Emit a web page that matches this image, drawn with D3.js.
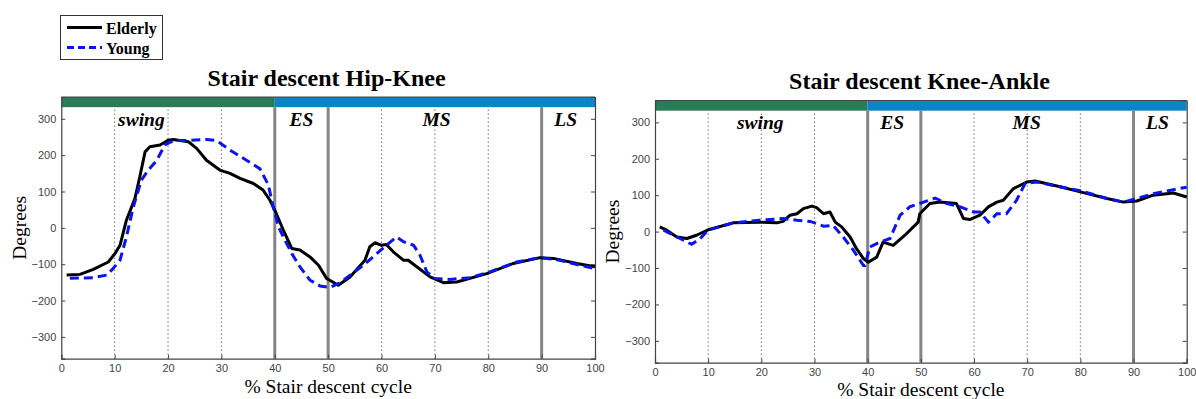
<!DOCTYPE html>
<html><head><meta charset="utf-8">
<script src="https://cdn.jsdelivr.net/npm/d3@7"></script>
<style>body{margin:0;background:#fff;} svg{display:block;}</style>
</head><body>
<svg id="c" width="1196" height="399"></svg>
<script>
// ---------------- data ----------------
const xTicks = [0,10,20,30,40,50,60,70,80,90,100];
const yTicks = [-300,-200,-100,0,100,200,300];
const phaseLines = [40,50,90];
const gridLines = [10,20,30,60,70,80];
const phaseNames = ["swing","ES","MS","LS"];
const phaseLabelXHipKnee = [15,45,70.3,94.5];
const phaseLabelXKneeAnkle = [19.8,44.6,69.9,94.5];
const seriesNames = ["Elderly","Young"];
const titles = ["Stair descent Hip-Knee","Stair descent Knee-Ankle"];

const hipKneeElderly = [[1,-130],[3.5,-128],[6,-114],[8.8,-94],[10.1,-70],[11,-48],[12.2,21],[13.8,81],[14.7,140],[15.7,209],[16.6,223],[18.5,228],[20,241],[21,243],[23.8,237],[25.4,218],[27.2,186],[29.7,159],[31.6,150],[33.5,136],[36,122],[37.8,104],[39.1,76],[40,49],[41.6,-6],[43.2,-57],[44.7,-61],[46.6,-80],[48.2,-103],[49.7,-139],[50.3,-144],[51.9,-158],[54.1,-135],[56.9,-89],[57.8,-52],[58.8,-41],[60,-48],[60.9,-46],[62.2,-66],[64.1,-89],[65,-89],[66.6,-107],[69.1,-135],[71.6,-151],[74.1,-149],[79.7,-126],[84.7,-98],[89.7,-82],[92.2,-84],[96.6,-98],[100,-107]];
const hipKneeYoung = [[1.6,-139],[6,-137],[8.5,-130],[9.7,-112],[11,-89],[12.2,-25],[13.5,58],[15,131],[16.3,159],[17.9,186],[19.4,228],[21,240],[23.5,240],[27.2,243],[29.1,240],[31.6,214],[34.7,186],[37.2,163],[38.8,118],[39.7,58],[40.7,3],[41.6,-25],[43.2,-71],[44.7,-107],[46.6,-144],[48.5,-160],[50.3,-164],[52.2,-151],[54.1,-130],[56.6,-103],[59.1,-71],[60.9,-48],[62.8,-25],[64.1,-38],[66,-48],[67.2,-75],[68.5,-121],[70,-139],[72.8,-142],[76.6,-137],[80.3,-121],[85.3,-94],[89.7,-82],[93.4,-89],[97.2,-103],[100,-112]];
const kneeAnkleElderly = [[0.9,13],[2.2,4],[4.1,-15],[6,-19],[7.8,-10],[10,5],[14.7,24],[19.7,26],[22.9,24],[24.1,28],[25.4,45],[26.7,49],[27.9,63],[29.5,70],[30.4,66],[31.7,49],[32.9,54],[33.9,26],[35.1,13],[36.7,-15],[37.9,-47],[39.2,-74],[40.1,-84],[41.7,-70],[42.9,-29],[44.8,-38],[47,-10],[49.5,26],[49.8,49],[51.7,77],[53.6,81],[56.7,77],[58,36],[59.2,33],[61.1,45],[62.7,68],[64.3,81],[65.5,86],[67.4,118],[69.9,136],[71.5,139],[76.2,123],[80,109],[85,91],[88.1,81],[90.6,84],[93.7,100],[97.5,106],[100,95]];
const kneeAnkleYoung = [[1.6,4],[4.7,-19],[6.9,-35],[8.5,-19],[10,4],[14.7,24],[19.7,31],[24.1,36],[26.7,31],[29.2,28],[31.7,15],[33.5,17],[35.4,-15],[37.3,-51],[39.2,-93],[39.5,-93],[40.4,-42],[42.3,-29],[44.2,-19],[46.1,45],[47.9,68],[50.5,81],[52.7,92],[54.9,77],[57.4,68],[59.9,54],[61.1,54],[62.7,26],[64.3,49],[66.1,49],[68,86],[69.6,132],[71.8,136],[76.2,123],[80,112],[85,91],[88.1,81],[90.6,91],[93.7,104],[97.5,115],[100,122]];

// ---------------- drawing ----------------
const svg = d3.select("#c");
const serif = "'Liberation Serif','Times New Roman',serif";
const sans = "'Liberation Sans',Arial,sans-serif";

const panels = [
  {x0:61.3, x1:595, yT:97, yB:358.7, title:titles[0], tx:326.5, ty:86, el:hipKneeElderly, yo:hipKneeYoung, labX:phaseLabelXHipKnee, labY:126, degX:20, xlY:393},
  {x0:655, x1:1186.7, yT:100.5, yB:362.7, title:titles[1], tx:919.5, ty:89, el:kneeAnkleElderly, yo:kneeAnkleYoung, labX:phaseLabelXKneeAnkle, labY:129, degX:613, xlY:396}
];

panels.forEach(p => {
  const x = d3.scaleLinear().domain([0,100]).range([p.x0,p.x1]);
  const y = d3.scaleLinear().domain([-360,360]).range([p.yB,p.yT]);
  const g = svg.append("g");

  // grid dotted
  g.selectAll(".grid").data(gridLines).join("line")
    .attr("x1",d=>x(d)).attr("x2",d=>x(d)).attr("y1",y(-360)).attr("y2",y(332))
    .attr("stroke","#333").attr("stroke-width",1).attr("stroke-dasharray","1,3");

  // colour bar
  g.append("rect").attr("x",x(0)).attr("width",x(40)-x(0)).attr("y",y(360)).attr("height",y(332)-y(360)).attr("fill","#2a7b57");
  g.append("rect").attr("x",x(40)).attr("width",x(100)-x(40)).attr("y",y(360)).attr("height",y(332)-y(360)).attr("fill","#0b84c8");

  // phase lines
  g.selectAll(".ph").data(phaseLines).join("line")
    .attr("x1",d=>x(d)).attr("x2",d=>x(d)).attr("y1",y(-360)).attr("y2",y(332))
    .attr("stroke","#858585").attr("stroke-width",3);

  // axes
  const ax = g.append("g").attr("transform",`translate(0,${p.yB})`)
    .call(d3.axisBottom(x).tickValues(xTicks).tickSize(-4).tickPadding(6));
  const ay = g.append("g").attr("transform",`translate(${p.x0},0)`)
    .call(d3.axisLeft(y).tickValues(yTicks).tickSize(-4).tickPadding(5));
  const ayr = g.append("g").attr("transform",`translate(${p.x1},0)`)
    .call(d3.axisRight(y).tickValues(yTicks).tickSize(-4).tickFormat(""));
  [ax,ay,ayr].forEach(a=>{
    a.select(".domain").attr("stroke","#444").attr("stroke-width",1.2);
    a.selectAll(".tick line").attr("stroke","#444");
    a.selectAll("text").attr("font-family",sans).attr("font-size",11).attr("fill","#444");
  });
  // top border
  g.append("line").attr("x1",p.x0).attr("x2",p.x1).attr("y1",p.yT).attr("y2",p.yT).attr("stroke","#444");

  // lines
  const line = d3.line().x(d=>x(d[0])).y(d=>y(d[1]));
  g.append("path").datum(p.el).attr("d",line).attr("fill","none").attr("stroke","#000").attr("stroke-width",3).attr("stroke-linejoin","round");
  g.append("path").datum(p.yo).attr("d",line).attr("fill","none").attr("stroke","#0a14f0").attr("stroke-width",3).attr("stroke-dasharray","9,5");

  // phase labels
  g.selectAll(".pl").data(phaseNames).join("text")
    .attr("x",(d,i)=>x(p.labX[i])).attr("y",p.labY).attr("text-anchor","middle")
    .attr("font-family",serif).attr("font-weight","bold").attr("font-style","italic").attr("font-size",19.5)
    .text(d=>d);

  // title
  g.append("text").attr("x",p.tx).attr("y",p.ty).attr("text-anchor","middle")
    .attr("font-family",serif).attr("font-weight","bold").attr("font-size",24).text(p.title);
  // axis labels
  g.append("text").attr("transform",`translate(${p.degX+6},${(p.yT+p.yB)/2}) rotate(-90)`).attr("text-anchor","middle")
    .attr("font-family",serif).attr("font-size",19.5).text("Degrees");
  g.append("text").attr("x",(p.x0+p.x1)/2).attr("y",p.xlY).attr("text-anchor","middle")
    .attr("font-family",serif).attr("font-size",19.5).text("% Stair descent cycle");
});

// legend
const lg = svg.append("g");
lg.append("rect").attr("x",60.5).attr("y",15.5).attr("width",102).attr("height",44).attr("fill","#fff").attr("stroke","#333");
const legY = [27.5,47.5];
const legStroke = ["#000","#0a14f0"];
const legDash = [null,"7,4"];
seriesNames.forEach((s,i)=>{
  lg.append("line").attr("x1",67).attr("x2",102).attr("y1",legY[i]).attr("y2",legY[i])
    .attr("stroke",legStroke[i]).attr("stroke-width",3).attr("stroke-dasharray",legDash[i]);
  lg.append("text").attr("x",106).attr("y",legY[i]+6).attr("font-family",serif).attr("font-weight","bold").attr("font-size",16).text(s);
});
</script>
</body></html>
